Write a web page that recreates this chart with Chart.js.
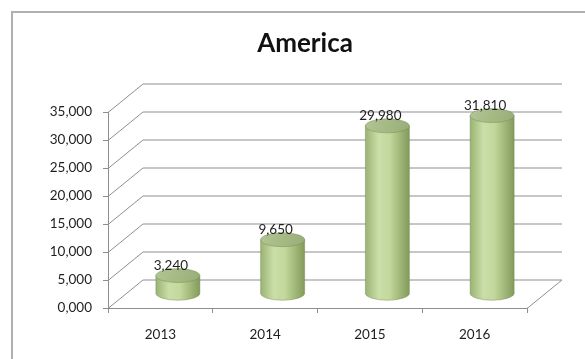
<!DOCTYPE html>
<html>
<head>
<meta charset="utf-8">
<script src="https://cdn.jsdelivr.net/npm/chart.js@4/dist/chart.umd.min.js"></script>
<style>
    body { margin: 0; background: #fff; }
    canvas { display: block; }
</style>
</head>
<body>
<canvas id="america" width="585" height="359"></canvas>
<script>
const chartTitle = 'America';
const years = ['2013', '2014', '2015', '2016'];
const values = [3240, 9650, 29980, 31810];
const yTickLabels = ['0,000', '5,000', '10,000', '15,000', '20,000', '25,000', '30,000', '35,000'];

// depth offset of the back wall (pixels)
const depth = { dx: 35, dy: -28.5 };
const gridColor = '#8e8e8e';
const fontFamily = 'Lato, "Open Sans", sans-serif';

const frame = {
    id: 'frame',
    beforeDraw(chart) {
        const ctx = chart.ctx;
        ctx.save();
        ctx.strokeStyle = '#b0b0b0';
        ctx.lineWidth = 2;
        ctx.strokeRect(12, 12, 800, 800);
        ctx.fillStyle = '#111';
        ctx.font = 'bold 26px ' + fontFamily;
        ctx.textAlign = 'center';
        ctx.textBaseline = 'middle';
        ctx.fillText(chartTitle, 305, 44);
        ctx.restore();
    }
};

const grid3d = {
    id: 'grid3d',
    beforeDatasetsDraw(chart) {
        const ctx = chart.ctx;
        const { left, right, bottom } = chart.chartArea;
        const y = chart.scales.y;
        ctx.save();
        ctx.strokeStyle = gridColor;
        ctx.lineWidth = 1;
        ctx.beginPath();
        y.ticks.forEach(t => {
            const py = Math.round(y.getPixelForValue(t.value)) + 0.5;
            ctx.moveTo(left, py);
            ctx.lineTo(left + depth.dx, py + depth.dy);
            ctx.lineTo(right + depth.dx, py + depth.dy);
        });
        ctx.moveTo(right, Math.round(bottom) + 0.5);
        ctx.lineTo(right + depth.dx, Math.round(bottom) + 0.5 + depth.dy);
        ctx.stroke();
        ctx.restore();
    }
};

const cylinders = {
    id: 'cylinders',
    afterDatasetsDraw(chart) {
        const ctx = chart.ctx;
        const meta = chart.getDatasetMeta(0);
        const rx = 22, ry = 7;
        ctx.save();
        meta.data.forEach((bar, i) => {
            const cx = bar.x + depth.dx / 2;
            const top = bar.y + depth.dy / 2;
            const base = bar.base + depth.dy / 2;

            const side = ctx.createLinearGradient(cx - rx, 0, cx + rx, 0);
            side.addColorStop(0, '#9ab474');
            side.addColorStop(0.3, '#cadea8');
            side.addColorStop(0.55, '#c2d89c');
            side.addColorStop(1, '#829a5a');
            ctx.beginPath();
            ctx.moveTo(cx - rx, top);
            ctx.lineTo(cx - rx, base);
            ctx.ellipse(cx, base, rx, ry, 0, Math.PI, 0, true);
            ctx.lineTo(cx + rx, top);
            ctx.closePath();
            ctx.fillStyle = side;
            ctx.fill();
            ctx.strokeStyle = 'rgba(110,135,75,0.55)';
            ctx.lineWidth = 0.8;
            ctx.stroke();

            const cap = ctx.createLinearGradient(cx - rx, top - ry, cx + rx, top + ry);
            cap.addColorStop(0, '#b2c594');
            cap.addColorStop(1, '#98ad76');
            ctx.beginPath();
            ctx.ellipse(cx, top, rx, ry, 0, 0, Math.PI * 2);
            ctx.fillStyle = cap;
            ctx.fill();
            ctx.stroke();

            ctx.fillStyle = '#1e1e1e';
            ctx.font = '13.5px ' + fontFamily;
            ctx.textAlign = 'center';
            ctx.textBaseline = 'middle';
            ctx.fillText(values[i].toLocaleString('en-US'), cx - 7, top - 10);
        });
        ctx.restore();
    }
};

new Chart('america', {
    type: 'bar',
    data: {
        labels: years,
        datasets: [{
            data: values,
            backgroundColor: 'rgba(0,0,0,0)',
            borderWidth: 0
        }]
    },
    options: {
        responsive: false,
        animation: false,
        devicePixelRatio: 1,
        layout: { padding: { left: 0, right: 58, top: 112, bottom: 0 } },
        plugins: {
            legend: { display: false },
            tooltip: { enabled: false }
        },
        scales: {
            x: {
                afterFit: s => { s.height = 51; },
                grid: { drawOnChartArea: false, drawTicks: true, tickLength: 5, color: gridColor },
                border: { color: gridColor },
                ticks: { color: '#1e1e1e', padding: 14, font: { family: fontFamily, size: 13.5 } }
            },
            y: {
                min: 0,
                max: 35000,
                afterFit: s => { s.width = 108; },
                grid: { drawOnChartArea: false, drawTicks: true, tickLength: 5, color: gridColor },
                border: { color: gridColor },
                ticks: {
                    stepSize: 5000,
                    color: '#1e1e1e',
                    padding: 11,
                    font: { family: fontFamily, size: 13.5 },
                    callback: (v, i) => yTickLabels[i]
                }
            }
        }
    },
    plugins: [frame, grid3d, cylinders]
});
</script>
</body>
</html>
